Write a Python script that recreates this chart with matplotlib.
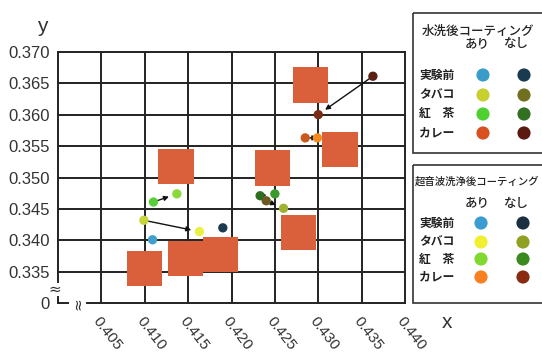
import matplotlib
matplotlib.use("Agg")
import matplotlib.pyplot as plt

num_font = ['Liberation Sans', 'DejaVu Sans']
jp_font = ['Noto Sans CJK JP', 'DejaVu Sans']

# axis ticks
x_ticks = [0.400, 0.405, 0.410, 0.415, 0.420, 0.425, 0.430, 0.435, 0.440]
x_labels = ['', '0.405', '0.410', '0.415', '0.420', '0.425', '0.430', '0.435', '0.440']
y_ticks = [0.330, 0.335, 0.340, 0.345, 0.350, 0.355, 0.360, 0.365, 0.370]
y_labels = ['0', '0.335', '0.340', '0.345', '0.350', '0.355', '0.360', '0.365', '0.370']

# reference colour patches (squares)
sq_x = [0.4100, 0.4136, 0.4147, 0.4187, 0.4247, 0.4277, 0.4291, 0.4325]
sq_y = [0.3356, 0.3518, 0.3371, 0.3377, 0.3515, 0.3413, 0.3647, 0.3544]

# measured samples
pt_name = ['w_pre_a', 'w_pre_n', 'w_tb_a', 'u_tb_a', 'w_tea_a', 'u_tea_a',
           'w_tea_n', 'w_tb_n', 'u_tea_n', 'u_tb_n', 'w_cu_a', 'u_cu_a',
           'w_cu_n', 'u_cu_n']
pt_x = [0.4109, 0.4190, 0.4099, 0.4163, 0.4110, 0.4137,
        0.4233, 0.4240, 0.4250, 0.4260, 0.4285, 0.4299,
        0.4363, 0.4300]
pt_y = [0.3401, 0.3420, 0.3432, 0.3414, 0.3461, 0.3474,
        0.3471, 0.3463, 0.3474, 0.3451, 0.3563, 0.3563,
        0.3661, 0.3600]
pt_color = ['#3f9fcf', '#1d3b4f', '#c5d53a', '#e8f040', '#5acd3a', '#8ad83a',
            '#2f6e1f', '#6b5a20', '#3a9a2a', '#a0b030', '#c85a20', '#f58a20',
            '#5a2015', '#7a2a15']

# water wash -> ultrasonic wash
arrows = [('w_tb_a', 'u_tb_a'), ('w_tea_a', 'u_tea_a'), ('w_tea_n', 'u_tea_n'),
          ('w_tb_n', 'u_tb_n'), ('w_cu_a', 'u_cu_a'), ('w_cu_n', 'u_cu_n')]

# legend tables
rows = ['実験前', 'タバコ', '紅　茶', 'カレー']
wash_yes = ['#3a9cc8', '#c8d030', '#50d030', '#d85020']
wash_no = ['#1a3a50', '#707020', '#307020', '#5a1a10']
ultra_yes = ['#3a9cd0', '#f0f030', '#80d830', '#f88020']
ultra_no = ['#1a3040', '#90a020', '#3a8a20', '#8a2a10']

fig = plt.figure(figsize=(5.42, 3.52), dpi=100)
ax = fig.add_axes([58 / 542, 1 - 303.3 / 352, 347 / 542, 251.6 / 352])
ax.set_xlim(0.400, 0.440)
ax.set_ylim(0.330, 0.370)

for v in x_ticks[1:-1]:
    ax.axvline(v, color='#222222', lw=1.4, zorder=1)
for v in y_ticks[1:-1]:
    ax.axhline(v, color='#222222', lw=1.4, zorder=1)

for s in ['left', 'bottom']:
    ax.spines[s].set_visible(False)
for s in ['top', 'right']:
    ax.spines[s].set_linewidth(1.4)
    ax.spines[s].set_color('#222222')

# broken left / bottom axis
kw = dict(transform=ax.transAxes, clip_on=False, color='#222222', lw=1.4)
ax.plot([0, 0], [0.085, 1], **kw)
ax.plot([0, 0], [0, 0.025], **kw)
ax.plot([0, 0.029], [0, 0], **kw)
ax.plot([0.084, 1], [0, 0], **kw)
ax.text(-0.008, 0.055, '≈', transform=ax.transAxes, ha='center', va='center',
        fontsize=11, color='#333333')
ax.text(0.056, 0.0, '≈', transform=ax.transAxes, ha='center', va='center',
        fontsize=11, rotation=90, color='#333333')

ax.set_xticks(x_ticks)
ax.set_xticklabels(x_labels, rotation=-52, ha='left', va='top',
                   rotation_mode='anchor', family=num_font, fontsize=11,
                   color='#333333')
ax.set_yticks(y_ticks)
ax.set_yticklabels(y_labels, family=num_font, fontsize=12, color='#333333')
ax.tick_params(axis='both', length=0)
ax.tick_params(axis='y', pad=6)
ax.tick_params(axis='x', pad=8)

ax.scatter(sq_x, sq_y, marker='s', s=640, color='#d9603a', edgecolors='none',
           zorder=2)
ax.scatter(pt_x, pt_y, s=45, c=pt_color, edgecolors='none', zorder=4)

for a, b in arrows:
    i, j = pt_name.index(a), pt_name.index(b)
    ax.annotate('', xy=(pt_x[j], pt_y[j]), xytext=(pt_x[i], pt_y[i]),
                arrowprops=dict(arrowstyle='-|>', color='#111111', lw=1.0,
                                mutation_scale=7, shrinkA=3, shrinkB=6),
                zorder=3)

# overlay in pixel units for labels and legend boxes
ov = fig.add_axes([0, 0, 1, 1], facecolor='none')
ov.set_xlim(0, 542)
ov.set_ylim(352, 0)
ov.axis('off')

ov.text(42, 26, 'y', fontsize=15, ha='center', va='center', family=num_font,
        color='#333333')
ov.text(447, 322, 'x', fontsize=15, ha='center', va='center', family=num_font,
        color='#333333')


def legend_box(top, bottom, title, title_x, title_y, title_size, header_y,
               row_ys, cx, yes, no):
    ov.add_patch(plt.Rectangle((413, top), 140, bottom - top, fill=False,
                               lw=1.2, edgecolor='#333333', clip_on=False))
    ov.text(title_x, title_y, title, fontsize=title_size, family=jp_font,
            va='center', ha='left', color='#222222', fontweight='medium')
    ov.text(477, header_y, 'あり', fontsize=9, family=jp_font,
            ha='center', va='center', color='#222222', fontweight='medium')
    ov.text(516, header_y, 'なし', fontsize=9, family=jp_font,
            ha='center', va='center', color='#222222', fontweight='medium')
    for r, yy, c1, c2 in zip(rows, row_ys, yes, no):
        ov.text(419, yy, r, fontsize=8.5, family=jp_font, ha='left',
                va='center', color='#222222', fontweight='bold')
        ov.scatter([cx[0]], [yy], s=90, color=c1, edgecolors='none')
        ov.scatter([cx[1]], [yy], s=90, color=c2, edgecolors='none')


legend_box(13, 153, '水洗後コーティング', 422, 31, 9, 44, [75, 95, 114, 133],
           (483, 524), wash_yes, wash_no)
legend_box(165, 303, '超音波洗浄後コーティング', 415, 182, 7.5, 203,
           [223, 242, 259, 277], (481, 523), ultra_yes, ultra_no)

fig.savefig('out.png', dpi=100)
